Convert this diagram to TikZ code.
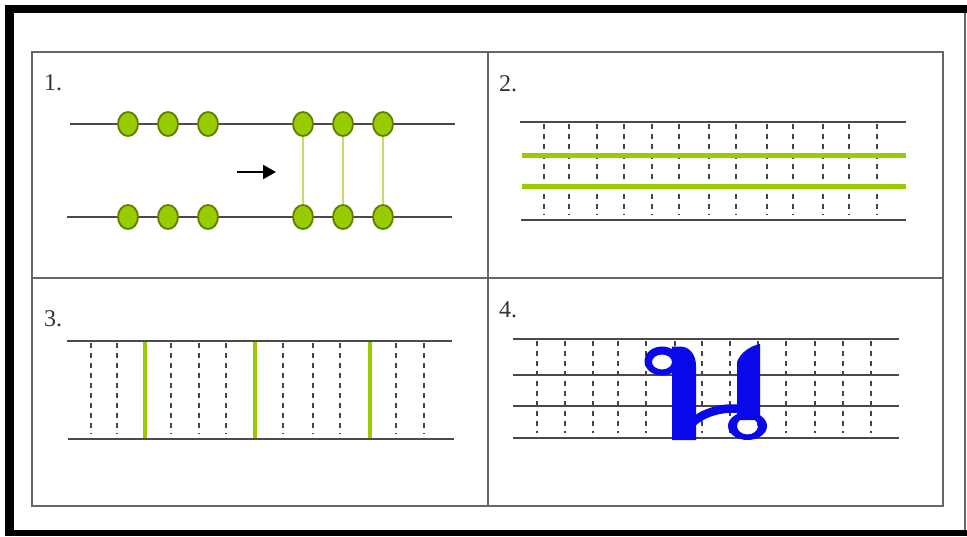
\documentclass[tikz,border=0pt]{standalone}
\usepackage{fontspec}
\setmainfont{Liberation Serif}
\usetikzlibrary{shapes.geometric,arrows.meta}
\definecolor{gridgrey}{HTML}{666666}
\definecolor{linegrey}{HTML}{4A4A4A}
\definecolor{dashgrey}{HTML}{444444}
\definecolor{leafgreen}{HTML}{99CC00}
\definecolor{leafdark}{HTML}{5E7F00}
\definecolor{paleline}{HTML}{C9D873}
\definecolor{glyphblue}{RGB}{8,8,232}
\definecolor{labelgrey}{HTML}{333333}
\tikzset{
  guide/.style={draw=linegrey,line width=1.8pt},
  dashv/.style={draw=dashgrey,line width=1.5pt,dash pattern=on 5pt off 5pt},
  greenv/.style={draw=leafgreen,line width=4pt},
  greenh/.style={draw=leafgreen,line width=5pt},
  bead/.style={ellipse,draw=leafdark,fill=leafgreen,line width=1.8pt,minimum width=20pt,minimum height=24pt,inner sep=0pt},
  rung/.style={draw=paleline,line width=1.1pt},
  lab/.style={anchor=base west,inner sep=0pt,text=labelgrey,font=\fontsize{24}{24}\selectfont},
  cell/.style={draw=gridgrey,line width=2pt}
}
\begin{document}
\begin{tikzpicture}[x=1pt,y=-1pt]
\useasboundingbox (0,0) rectangle (967,536);
\fill[white] (0,0) rectangle (967,536);
% outer frame
\fill[black] (5,5) rectangle (14,536);
\fill[black] (5,5) rectangle (967,13);
\fill[black] (5,530) rectangle (967,536);
\fill[gridgrey] (964,13) rectangle (966,530);
% table
\draw[cell] (32,52) rectangle (943,506);
\draw[cell] (488,52) -- (488,506);
\draw[cell] (32,278) -- (943,278);
% labels
\node[lab] (l1) at (44,90) {1.};
\node[lab] (l2) at (499,91) {2.};
\node[lab] (l3) at (44,326) {3.};
\node[lab] (l4) at (499,317) {4.};
% ---------- panel 1
\draw[guide] (70,124) -- (455,124);
\draw[guide] (67,217) -- (452,217);
\foreach \i/\x in {1/128,2/168,3/208,4/303,5/343,6/383}{
  \node[bead] (t\i) at (\x,124) {};
  \node[bead] (b\i) at (\x,217) {};
}
\foreach \i in {4,5,6}{ \draw[rung] (t\i) -- (b\i); }
\coordinate (a0) at (237,172);
\coordinate (a1) at (276,172);
\draw[black,line width=2.4pt,-{Triangle[length=13pt,width=14pt]}] (a0) -- (a1);
% ---------- panel 2
\foreach \x in {544,569,597,624,652,679,709,736,767,793,823,849,877}{
  \draw[dashv] (\x,124) -- (\x,215);
}
\draw[guide] (520,122) -- (906,122);
\draw[guide] (521,220) -- (906,220);
\draw[greenh] (522,155) -- (906,155);
\draw[greenh] (522,186) -- (906,186);
% ---------- panel 3
\foreach \x in {91,117,171,199,226,283,313,340,396,424}{
  \draw[dashv] (\x,343) -- (\x,434);
}
\foreach \x in {145,255,370}{
  \draw[greenv] (\x,341) -- (\x,439);
}
\draw[guide] (67,341) -- (452,341);
\draw[guide] (68,439) -- (454,439);
% ---------- panel 4
\foreach \x in {537,565,593,618,646,675,702,730,758,786,815,843,871}{
  \draw[dashv] (\x,341) -- (\x,433);
}
\foreach \y in {339,375,406,438}{
  \draw[guide] (513,\y) -- (899,\y);
}
% glyph
\fill[glyphblue,even odd rule] (662,361) ellipse [x radius=17.5,y radius=14.5]
                               (662,362) ellipse [x radius=10,y radius=7.5];
\fill[glyphblue] (672,440) -- (672,346.5) -- (680,346.5)
   .. controls (690,346.5) and (696,355) .. (696,366) -- (696,440) -- cycle;
\fill[glyphblue] (737,420) -- (737,362)
   .. controls (740,353) and (750,346) .. (760,344) -- (760,420) -- cycle;
\draw[glyphblue,line width=8.5pt] (692,423) .. controls (705,411) and (725,407) .. (740,409);
\fill[glyphblue,even odd rule] (747.5,426) ellipse [x radius=19.5,y radius=14]
                               (747.5,426) ellipse [x radius=10.5,y radius=8.5];
\end{tikzpicture}
\end{document}
